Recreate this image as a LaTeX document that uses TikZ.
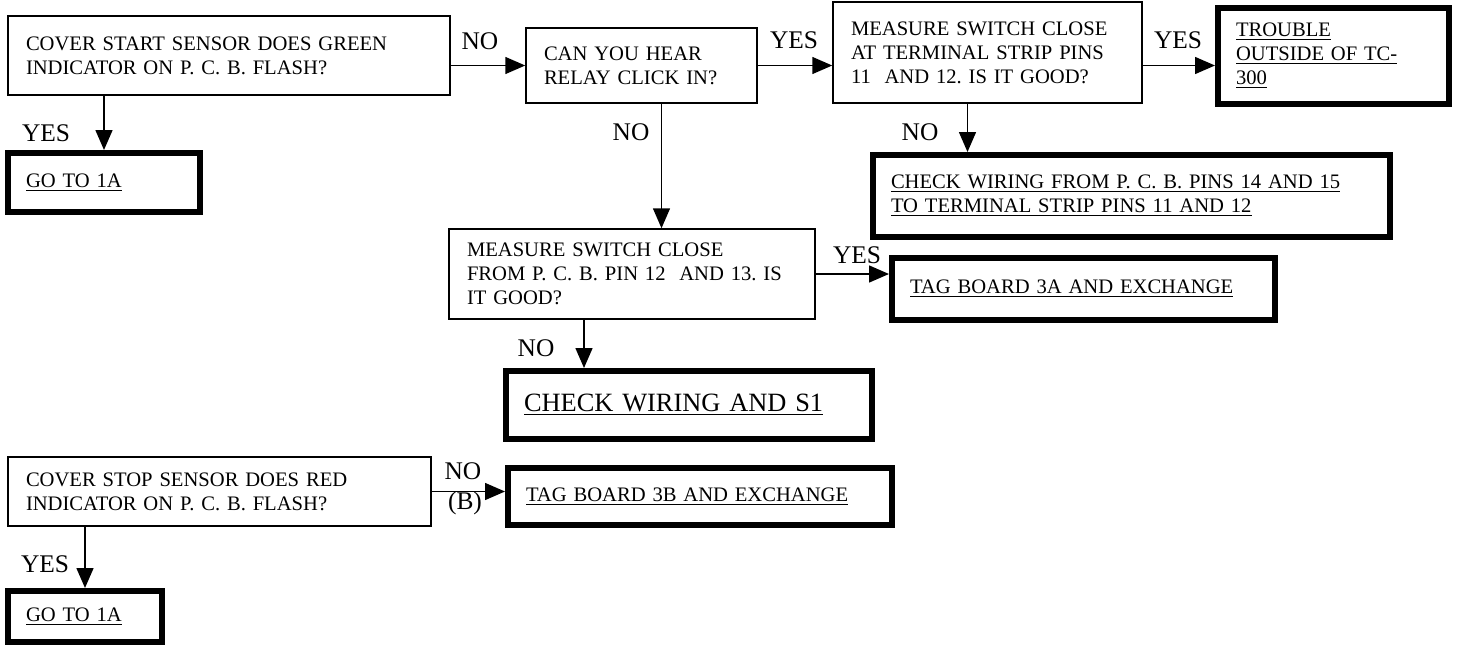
\documentclass[tikz,border=0pt]{standalone}
\usepackage{fontspec}
\setmainfont{Liberation Serif}
\usetikzlibrary{arrows.meta,positioning}
\frenchspacing

\begin{document}
\begin{tikzpicture}[x=0.5pt, y=-0.5pt,
    box/.style={rectangle, draw, line width=0.75pt, align=left, inner xsep=9pt, inner ysep=0pt, font=\fontsize{10.3}{12}\selectfont},
    endbox/.style={box, line width=3pt},
    arrow/.style={-{Triangle[length=10pt, width=8.5pt]}, line width=0.75pt},
    answer/.style={inner sep=0pt, font=\fontsize{12.7}{14}\selectfont}
]
\useasboundingbox (0,0) rectangle (1458,648);

% Start sensor test
\node[box, minimum width=221pt, minimum height=39.5pt, text width=203pt] (startq) at (229,55.5)
    {COVER START SENSOR DOES GREEN\\INDICATOR ON P. C. B. FLASH?};
\node[endbox, minimum width=96pt, minimum height=29.5pt, text width=78pt] (goa) at (104,182.5)
    {\underline{GO TO 1A}};

% Relay check
\node[box, minimum width=115.5pt, minimum height=37.5pt, text width=97.5pt] (relayq) at (641.5,65.5)
    {CAN YOU HEAR\\RELAY CLICK IN?};
\node[box, minimum width=154.5pt, minimum height=50.5pt, text width=136.5pt] (stripq) at (987.5,52.5)
    {MEASURE SWITCH CLOSE\\AT TERMINAL STRIP PINS\\11\ \ AND 12. IS IT GOOD?};
\node[endbox, minimum width=115.5pt, minimum height=48pt, text width=97.5pt] (outside) at (1333.5,56)
    {\underline{TROUBLE}\\\underline{OUTSIDE OF TC-}\\\underline{300}};
\node[endbox, minimum width=258.5pt, minimum height=41pt, text width=240.5pt] (wiring) at (1131.5,196)
    {\underline{CHECK WIRING FROM P. C. B. PINS 14 AND 15}\\\underline{TO TERMINAL STRIP PINS 11 AND 12}};

% Switch on the board
\node[box, minimum width=183pt, minimum height=45pt, text width=165pt] (pcbq) at (632,274)
    {MEASURE SWITCH CLOSE\\FROM P. C. B. PIN 12\ \ AND 13. IS\\IT GOOD?};
\node[endbox, minimum width=191.5pt, minimum height=31pt, text width=173.5pt] (tagA) at (1083.5,289)
    {\underline{TAG BOARD 3A AND EXCHANGE}};
\node[endbox, minimum width=183pt, minimum height=34pt, text width=165pt, font=\fontsize{13.2}{15}\selectfont] (wiringS) at (689,405)
    {\underline{CHECK WIRING AND S1}};

% Stop sensor test
\node[box, minimum width=211.5pt, minimum height=34.5pt, text width=193.5pt] (stopq) at (219.5,491.5)
    {COVER STOP SENSOR DOES RED\\INDICATOR ON P. C. B. FLASH?};
\node[endbox, minimum width=192pt, minimum height=28.5pt, text width=174pt] (tagB) at (700,496.5)
    {\underline{TAG BOARD 3B AND EXCHANGE}};
\node[endbox, minimum width=77pt, minimum height=25.5pt, text width=59pt] (gob) at (85,616.5)
    {\underline{GO TO 1A}};

% Connectors
\draw[arrow] (startq.east |- relayq.west) -- (relayq.west);
\draw[arrow] (goa.north |- startq.south) -- (goa.north);
\draw[arrow] (relayq.east) -- (stripq.west |- relayq.east);
\draw[arrow] (stripq.east |- relayq.east) -- (outside.west |- relayq.east);
\draw[arrow] ([xshift=10pt]relayq.south) -- ([xshift=10pt]relayq.south |- pcbq.north);
\draw[arrow] ([xshift=-10pt]stripq.south) -- ([xshift=-10pt]stripq.south |- wiring.north);
\draw[arrow] (pcbq.east) -- (pcbq.east -| tagA.west);
\draw[arrow] ([xshift=-24pt]pcbq.south) -- ([xshift=-24pt]pcbq.south |- wiringS.north);
\draw[arrow] (stopq.east) -- (stopq.east -| tagB.west);
\draw[arrow] (gob.north |- stopq.south) -- (gob.north);

% Answers
\node[answer] (no1) at (480,41) {NO};
\node[answer] (yes1) at (794,40) {YES};
\node[answer] (yes2) at (1178,40) {YES};
\node[answer] (yes3) at (46,133) {YES};
\node[answer] (no2) at (631,132) {NO};
\node[answer] (no3) at (920,132) {NO};
\node[answer] (yes4) at (857,255) {YES};
\node[answer] (no4) at (536,348) {NO};
\node[answer] (no5) at (463,471) {NO};
\node[answer] (b5) at (465,503) {(B)};
\node[answer] (yes5) at (45,564) {YES};

\end{tikzpicture}
\end{document}
